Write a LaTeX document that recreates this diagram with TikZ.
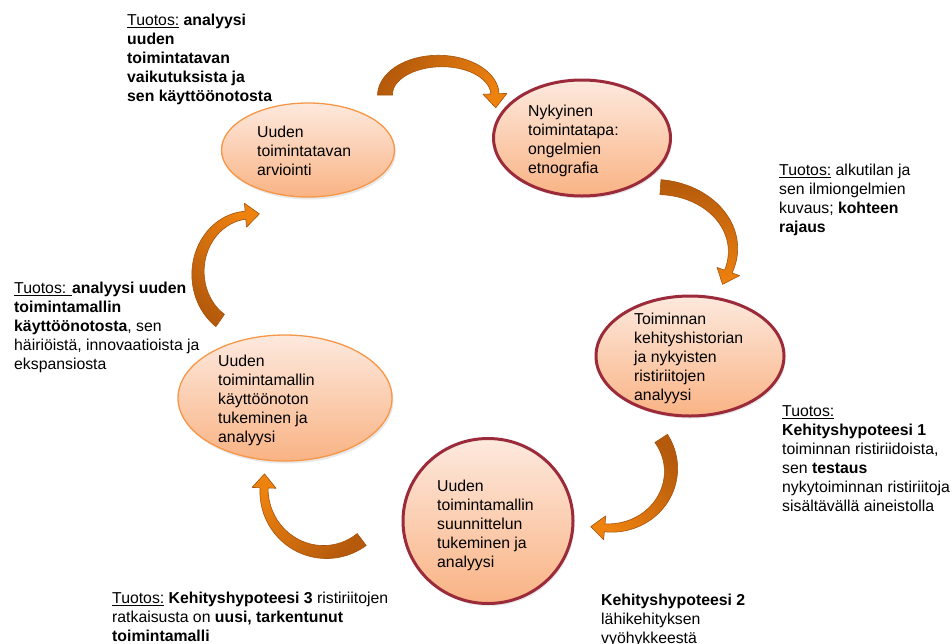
\documentclass[tikz,border=0pt]{standalone}
\usepackage{fontspec}
\setmainfont{Liberation Sans}
\usetikzlibrary{shapes.geometric,shadows}

\definecolor{peachtop}{HTML}{FDE9DE}
\definecolor{peachbot}{HTML}{F9B384}
\definecolor{ringred}{HTML}{9B2B3A}
\definecolor{ringorange}{HTML}{F79646}
\definecolor{arrdark}{HTML}{B55A0C}
\definecolor{arrlight}{HTML}{EE820F}
\definecolor{arredge}{HTML}{A5520A}

\tikzset{
  phase/.style={ellipse, inner sep=0pt, top color=peachtop, bottom color=peachbot,
    drop shadow={opacity=0.18, shadow xshift=1.5pt, shadow yshift=-2.5pt}},
  redphase/.style={phase, draw=ringred, line width=3pt},
  orangephase/.style={phase, draw=ringorange, line width=1.3pt},
  % texts are placed by the baseline of their last line
  phasetext/.style={anchor=base west, align=left, inner sep=0pt,
    font=\fontsize{15.8}{18.9}\selectfont},
  note/.style={phasetext},
  bentfill/.style={top color=arrlight, bottom color=arrdark, shading angle=#1,
    draw=arredge, line width=0.6pt, line join=round},
}

% tapered curved block arrow along an elliptic arc
% #1,#2 centre, #3,#4 radii, #5 tail angle, #6 head angle, #7 shading angle
\def\wtail{15}
\def\wneck{8}
\def\headw{12}
\def\headl{14}
\newcommand\bentarrow[7]{%
  \pgfmathsetmacro\bsg{ifthenelse(#6>#5,1,-1)}%
  \pgfmathsetmacro\btx{-\bsg*(#3)*sin(#6)}%
  \pgfmathsetmacro\bty{\bsg*(#4)*cos(#6)}%
  \pgfmathsetmacro\btn{veclen(\btx,\bty)}%
  \pgfmathsetmacro\bbx{#1+(#3)*cos(#6)}%
  \pgfmathsetmacro\bby{#2+(#4)*sin(#6)}%
  \def\BH{((\wtail+(\wneck-\wtail)*(\t-(#5))/((#6)-(#5)))/2)}%
  \path[bentfill=#7]
    plot[domain=#5:#6, samples=40, variable=\t]
      ({#1+(#3+\BH)*cos(\t)}, {#2+(#4+\BH)*sin(\t)})
    -- ({\bbx+\headw*cos(#6)}, {\bby+\headw*sin(#6)})
    -- ({\bbx+\headl*\btx/\btn}, {\bby+\headl*\bty/\btn})
    -- ({\bbx-\headw*cos(#6)}, {\bby-\headw*sin(#6)})
    -- plot[domain=#6:#5, samples=40, variable=\t]
      ({#1+(#3-\BH)*cos(\t)}, {#2+(#4-\BH)*sin(\t)})
    -- cycle;
}

\begin{document}
\begin{tikzpicture}[x=1pt, y=-1pt]
\useasboundingbox (0,0) rectangle (952,643);

% phases of the cycle
\node[orangephase, minimum width=214pt, minimum height=126pt] (e5) at (285,398) {};
\node[orangephase, minimum width=173pt, minimum height=94pt] (e1) at (308,150) {};
\node[redphase, minimum width=177pt, minimum height=116pt] (e2) at (582,138) {};
\node[redphase, minimum width=188pt, minimum height=120pt] (e3) at (690,356) {};
\node[redphase, minimum width=170pt, minimum height=165pt] (e4) at (488,521) {};

\node[phasetext] (t1) at (257,175) {Uuden\\toimintatavan\\arviointi};
\node[phasetext] (t2) at (528,173) {Nykyinen\\toimintatapa:\\ongelmien\\etnografia};
\node[phasetext] (t3) at (634,400) {Toiminnan\\kehityshistorian\\ja nykyisten\\ristiriitojen\\analyysi};
\node[phasetext] (t4) at (437,567) {Uuden\\toimintamallin\\suunnittelun\\tukeminen ja\\analyysi};
\node[phasetext] (t5) at (218,442) {Uuden\\toimintamallin\\käyttöönoton\\tukeminen ja\\analyysi};

% arrows between the phases
\bentarrow{440}{95}{55}{34}{180}{358}{-120}
\bentarrow{655}{250}{78}{63}{-86}{20}{180}
\bentarrow{610}{470}{61}{58}{-33}{95}{135}
\bentarrow{325}{490}{61}{62}{53}{182}{45}
\bentarrow{250}{273}{52}{58}{125}{265}{-45}

% outputs of each phase
\node[note] (n1) at (127,101) {\underline{Tuotos:} \textbf{analyysi}\\\textbf{uuden}\\\textbf{toimintatavan}\\\textbf{vaikutuksista ja}\\\textbf{sen käyttöönotosta}};
\node[note] (n2) at (779,232) {\underline{Tuotos:} alkutilan ja\\sen ilmiongelmien\\kuvaus; \textbf{kohteen}\\\textbf{rajaus}};
\node[note] (n3) at (782,511) {\underline{Tuotos:}\\\textbf{Kehityshypoteesi 1}\\toiminnan ristiriidoista,\\sen \textbf{testaus}\\nykytoiminnan ristiriitoja\\sisältävällä aineistolla};
\node[note] (n4) at (601,643) {\textbf{Kehityshypoteesi 2}\\lähikehityksen\\vyöhykkeestä};
\node[note] (n5) at (14,369) {\underline{Tuotos: }\textbf{analyysi uuden}\\\textbf{toimintamallin}\\\textbf{käyttöönotosta}, sen\\häiriöistä, innovaatioista ja\\ekspansiosta};
\node[note] (n6) at (112,641) {\underline{Tuotos:} \textbf{Kehityshypoteesi 3} ristiriitojen\\ratkaisusta on \textbf{uusi, tarkentunut}\\\textbf{toimintamalli}};
\end{tikzpicture}
\end{document}
